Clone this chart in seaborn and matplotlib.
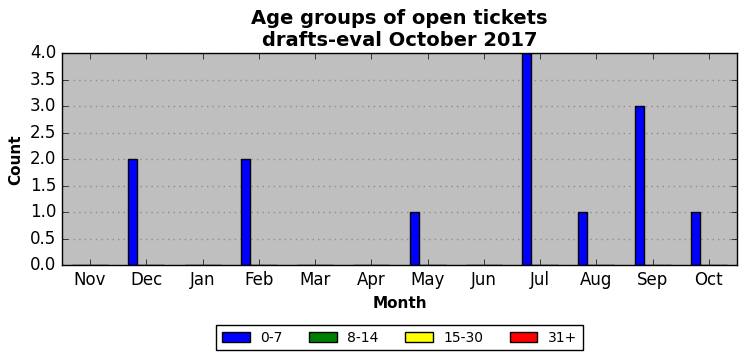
import matplotlib
matplotlib.use("Agg")
import matplotlib.pyplot as plt
import numpy as np
import pandas as pd
import seaborn as sns
from matplotlib.patches import Patch

months = ["Nov", "Dec", "Jan", "Feb", "Mar", "Apr", "May", "Jun", "Jul", "Aug", "Sep", "Oct"]
age_0_7 = [0, 2, 0, 2, 0, 0, 1, 0, 4, 1, 3, 1]
age_8_14 = [0, 0, 0, 0, 0, 0, 0, 0, 0, 0, 0, 0]
age_15_30 = [0, 0, 0, 0, 0, 0, 0, 0, 0, 0, 0, 0]
age_31p = [0, 0, 0, 0, 0, 0, 0, 0, 0, 0, 0, 0]
groups = ["0-7", "8-14", "15-30", "31+"]
colors = ["blue", "green", "yellow", "red"]

df = pd.DataFrame({"Month": months, "0-7": age_0_7, "8-14": age_8_14,
                   "15-30": age_15_30, "31+": age_31p})
long = df.melt(id_vars="Month", var_name="Age", value_name="Count")

plt.style.use("classic")
plt.rcParams["figure.facecolor"] = "white"
plt.rcParams["savefig.facecolor"] = "white"

fig, ax = plt.subplots(figsize=(7.46, 3.61), dpi=100)
sns.barplot(data=long, x="Month", y="Count", hue="Age", hue_order=groups,
            palette=colors, width=0.64, edgecolor="black", linewidth=1,
            saturation=1, ax=ax, legend=False)

ax.set_facecolor("#bfbfbf")
ax.set_xlim(-0.5, 11.5)
ax.set_ylim(0, 4)
ax.set_yticks(np.arange(0, 4.01, 0.5))
ax.yaxis.grid(True, linestyle=":", color="#8c8c8c", linewidth=1)
ax.xaxis.grid(False)
ax.set_axisbelow(True)
ax.set_title("Age groups of open tickets\ndrafts-eval October 2017",
             fontsize=14, fontweight="bold")
ax.set_xlabel("Month", fontsize=11, fontweight="bold")
ax.set_ylabel("Count", fontsize=11, fontweight="bold")
ax.tick_params(labelsize=12)

# legend centred under the axes, not the figure
handles = [Patch(facecolor=c, edgecolor="black", label=g) for g, c in zip(groups, colors)]
fig.legend(handles=handles, loc="lower center", ncol=4, fontsize=10,
           bbox_to_anchor=(0.5355, 0.01), frameon=True, fancybox=False,
           handlelength=2.0, handletextpad=0.75, columnspacing=1.9)

fig.subplots_adjust(left=0.083, right=0.988, top=0.853, bottom=0.265)
fig.savefig("out.png", dpi=100)
